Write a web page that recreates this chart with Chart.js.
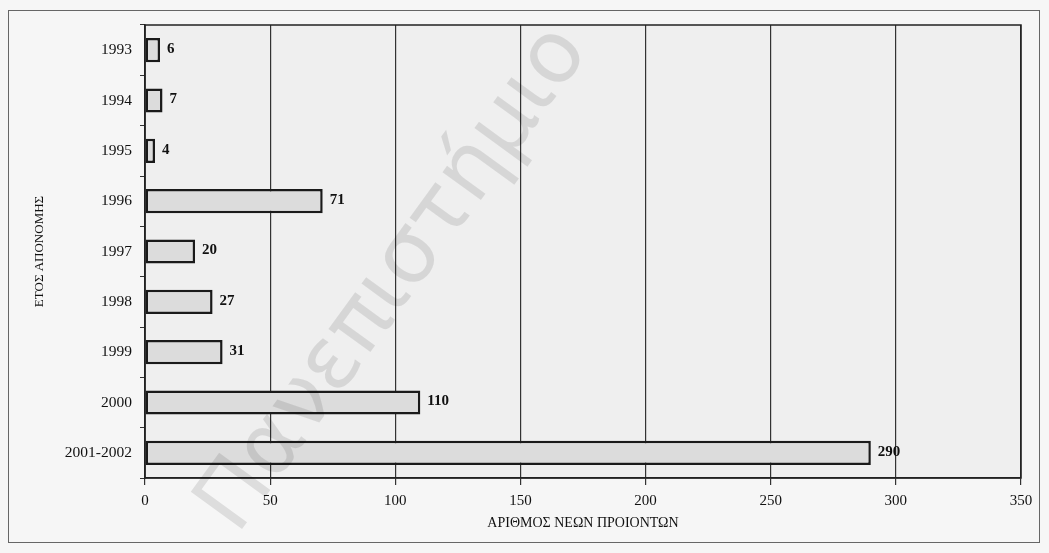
<!DOCTYPE html>
<html>
<head>
<meta charset="utf-8">
<script src="https://cdn.jsdelivr.net/npm/chart.js@4/dist/chart.umd.min.js"></script>
<style>
    html, body { margin: 0; padding: 0; background: #f6f6f6; }
    #wrap { position: relative; width: 1049px; height: 553px; }
    #frame { position: absolute; left: 8px; top: 10px; width: 1032px; height: 533px; border: 1.5px solid #666; box-sizing: border-box; }
    canvas { position: absolute; left: 0; top: 0; }
</style>
</head>
<body>
<div id="wrap">
    <div id="frame"></div>
    <canvas id="my_bar_chart" width="1049" height="553"></canvas>
</div>
<script>
var years = ["1993", "1994", "1995", "1996", "1997", "1998", "1999", "2000", "2001-2002"];
var newProducts = [6, 7, 4, 71, 20, 27, 31, 110, 290];
var xTicks = [0, 50, 100, 150, 200, 250, 300, 350];

var serif = "'Liberation Serif', 'DejaVu Serif', serif";

// grey plot background, plot frame, value labels and watermark
var plotBox = {
    id: 'plotBox',
    beforeDraw: function (chart) {
        var a = chart.chartArea, ctx = chart.ctx;
        ctx.save();
        ctx.fillStyle = '#efefef';
        ctx.fillRect(a.left, a.top, a.right - a.left, a.bottom - a.top);
        ctx.restore();
    },
    afterDatasetsDraw: function (chart) {
        var a = chart.chartArea, ctx = chart.ctx;
        ctx.save();
        ctx.strokeStyle = '#222';
        ctx.lineWidth = 1.5;
        ctx.strokeRect(a.left, a.top, a.right - a.left, a.bottom - a.top);
        var meta = chart.getDatasetMeta(0);
        ctx.fillStyle = '#111';
        ctx.font = 'bold 15px ' + serif;
        ctx.textBaseline = 'middle';
        meta.data.forEach(function (bar, i) {
            ctx.fillText(String(newProducts[i]), bar.x + 7, bar.y - 1);
        });
        ctx.restore();
    },
    afterDraw: function (chart) {
        var ctx = chart.ctx;
        ctx.save();
        ctx.translate(395, 280);
        ctx.rotate(-54 * Math.PI / 180);
        ctx.font = '100px "DejaVu Sans", sans-serif';
        var w = ctx.measureText('Πανεπιστήμιο').width;
        var s = 600 / w;
        ctx.scale(s, s);
        ctx.fillStyle = 'rgba(0,0,0,0.10)';
        ctx.textAlign = 'center';
        ctx.textBaseline = 'middle';
        ctx.fillText('Πανεπιστήμιο', 0, 0);
        ctx.restore();
    }
};

new Chart(document.getElementById("my_bar_chart").getContext("2d"), {
    type: 'bar',
    data: {
        labels: years,
        datasets: [{
            data: newProducts,
            backgroundColor: '#dcdcdc',
            borderColor: '#1a1a1a',
            borderWidth: 2.5,
            borderSkipped: false,
            barPercentage: 0.48,
            categoryPercentage: 1
        }]
    },
    options: {
        indexAxis: 'y',
        responsive: false,
        animation: false,
        layout: { padding: { left: 25, top: 25, right: 28, bottom: 17 } },
        plugins: { legend: { display: false }, tooltip: { enabled: false } },
        scales: {
            x: {
                min: 0,
                max: 350,
                afterBuildTicks: function (scale) {
                    scale.ticks = xTicks.map(function (v) { return { value: v }; });
                },
                grid: { color: '#333', lineWidth: 1.2, tickLength: 7, drawTicks: true },
                border: { color: '#222', width: 1.5 },
                ticks: { color: '#111', font: { family: serif, size: 15 }, padding: 7, maxRotation: 0 },
                title: { display: true, text: 'ΑΡΙΘΜΟΣ ΝΕΩΝ ΠΡΟΙΟΝΤΩΝ', color: '#111', font: { family: serif, size: 14 }, padding: { top: 2, bottom: 4 } },
                afterFit: function (scale) { scale.height = 58; }
            },
            y: {
                grid: { drawOnChartArea: false, color: '#333', tickLength: 5 },
                border: { color: '#222', width: 1.5 },
                ticks: { color: '#111', font: { family: serif, size: 15.5 }, padding: 8 },
                title: { display: true, text: 'ΕΤΟΣ ΑΠΟΝΟΜΗΣ', color: '#111', font: { family: serif, size: 13 }, padding: 7 },
                afterFit: function (scale) { scale.width = 120; }
            }
        }
    },
    plugins: [plotBox]
});
</script>
</body>
</html>
